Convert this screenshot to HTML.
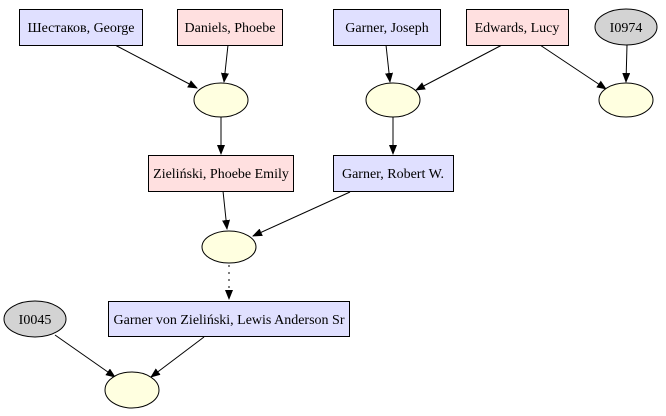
<!DOCTYPE html>
<html><head><meta charset="utf-8"><style>
html,body{margin:0;padding:0;background:#fff;width:666px;height:416px;overflow:hidden}
text{font-family:"Liberation Serif",serif;font-size:14px;fill:#000}
</style></head><body>
<svg width="666" height="416" viewBox="0 0 666 416" xmlns="http://www.w3.org/2000/svg">
<defs><marker id="a" markerWidth="10" markerHeight="8" refX="9" refY="4" orient="auto" markerUnits="userSpaceOnUse"><path d="M0,0 L10,4 L0,8 z" fill="#000"/></marker></defs>
<g stroke="#000" stroke-width="1" fill="none">
<line x1="115" y1="45" x2="197" y2="88" marker-end="url(#a)"/>
<line x1="228" y1="45" x2="224" y2="82" marker-end="url(#a)"/>
<line x1="221" y1="117" x2="221" y2="154" marker-end="url(#a)"/>
<line x1="386" y1="45" x2="390" y2="82" marker-end="url(#a)"/>
<line x1="502" y1="45" x2="416" y2="90" marker-end="url(#a)"/>
<line x1="540" y1="45" x2="606" y2="89" marker-end="url(#a)"/>
<line x1="627" y1="45" x2="626" y2="82" marker-end="url(#a)"/>
<line x1="393" y1="117" x2="393" y2="154" marker-end="url(#a)"/>
<line x1="223" y1="191" x2="227" y2="229" marker-end="url(#a)"/>
<line x1="350" y1="192" x2="253" y2="236" marker-end="url(#a)"/>
<line x1="229" y1="265" x2="229" y2="299" stroke-dasharray="2,5" marker-end="url(#a)"/>
<line x1="55" y1="335" x2="115" y2="377" marker-end="url(#a)"/>
<line x1="204" y1="337" x2="151" y2="377" marker-end="url(#a)"/>
</g>
<g stroke="#000" stroke-width="1">
<rect x="19.5" y="9.5" width="123" height="36" fill="#e0e0ff"/>
<rect x="177.5" y="9.5" width="105" height="36" fill="#ffe0e0"/>
<rect x="333.5" y="9.5" width="107" height="36" fill="#e0e0ff"/>
<rect x="466.5" y="9.5" width="102" height="36" fill="#ffe0e0"/>
<ellipse cx="626" cy="27" rx="31" ry="18" fill="#d3d3d3"/>
<ellipse cx="221" cy="100" rx="27" ry="17" fill="#ffffe0"/>
<ellipse cx="393" cy="100" rx="27" ry="17" fill="#ffffe0"/>
<ellipse cx="626" cy="100" rx="27" ry="17" fill="#ffffe0"/>
<rect x="148.5" y="155.5" width="145" height="36" fill="#ffe0e0"/>
<rect x="333.5" y="155.5" width="120" height="36" fill="#e0e0ff"/>
<ellipse cx="229" cy="247" rx="27" ry="16" fill="#ffffe0"/>
<rect x="108.5" y="301.5" width="241" height="35" fill="#e0e0ff"/>
<ellipse cx="35" cy="319" rx="31" ry="18" fill="#d3d3d3"/>
<ellipse cx="132" cy="390" rx="27" ry="18" fill="#ffffe0"/>
</g>
<g text-anchor="middle">
<text x="81" y="32">Шестаков, George</text>
<text x="230" y="32">Daniels, Phoebe</text>
<text x="387" y="32">Garner, Joseph</text>
<text x="517" y="32">Edwards, Lucy</text>
<text x="626" y="32">I0974</text>
<text x="221" y="178">Zieliński, Phoebe Emily</text>
<text x="393" y="178">Garner, Robert W.</text>
<text x="229" y="324">Garner von Zieliński, Lewis Anderson Sr</text>
<text x="35" y="324">I0045</text>
</g>
</svg>
</body></html>
